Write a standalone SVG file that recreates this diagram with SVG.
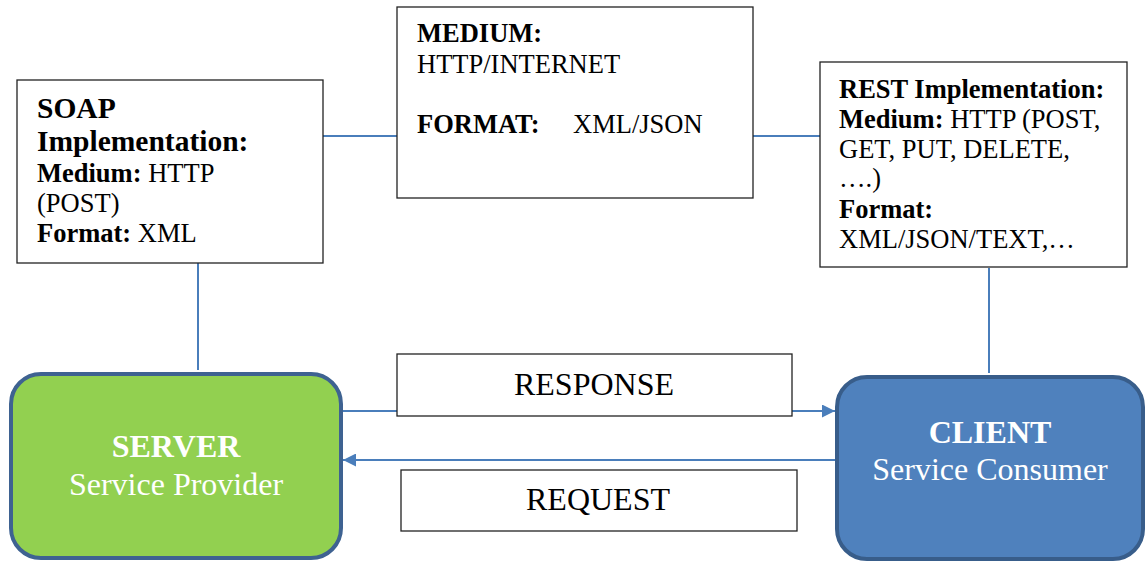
<svg xmlns="http://www.w3.org/2000/svg" width="1147" height="562" viewBox="0 0 1147 562" font-family="'Liberation Serif', Tinos, 'Times New Roman', 'DejaVu Serif', serif">
<style>
.box{fill:#fff;stroke:#222;stroke-width:1.3}
.t{font-family:'Liberation Serif', Tinos, 'Times New Roman', 'DejaVu Serif', serif;font-size:26.5px;fill:#000}
.h{font-size:29.5px}
.b{font-weight:bold}
.big{font-family:'Liberation Serif', Tinos, 'Times New Roman', 'DejaVu Serif', serif;font-size:32px}
.w{fill:#fff}
.conn{stroke:#4A7EBB;stroke-width:2;fill:none}
</style>
<defs>
<marker id="ah" viewBox="0 0 10 10" refX="10" refY="5" markerWidth="6.5" markerHeight="6.5" orient="auto" markerUnits="strokeWidth">
<path d="M0,0 L10,5 L0,10 z" fill="#4A7EBB"/>
</marker>
</defs>
<rect width="1147" height="562" fill="#fff"/>
<g id="connectors">
<line class="conn" x1="323" y1="136" x2="397" y2="136"/>
<line class="conn" x1="753" y1="136" x2="820" y2="136"/>
<line class="conn" x1="198" y1="263" x2="198" y2="370"/>
<line class="conn" x1="989" y1="268" x2="989" y2="373"/>
<line class="conn" x1="343" y1="411" x2="835" y2="411" marker-end="url(#ah)"/>
<line class="conn" x1="835" y1="460" x2="343" y2="460" marker-end="url(#ah)"/>
</g>
<g id="soap">
<rect class="box" x="17" y="80" width="306" height="183"/>
<text class="t b h" x="37" y="118">SOAP</text>
<text class="t b h" x="37" y="151">Implementation:</text>
<text class="t" x="37" y="182"><tspan class="b">Medium:</tspan> HTTP</text>
<text class="t" x="37" y="212">(POST)</text>
<text class="t" x="37" y="242"><tspan class="b">Format:</tspan> XML</text>
</g>
<g id="medium">
<rect class="box" x="397" y="7" width="356" height="191"/>
<text class="t b" x="417" y="42">MEDIUM:</text>
<text class="t" x="417" y="73">HTTP/INTERNET</text>
<text class="t b" x="417" y="133">FORMAT:</text>
<text class="t" x="573" y="133">XML/JSON</text>
</g>
<g id="rest">
<rect class="box" x="820" y="62" width="307" height="205"/>
<text class="t b" x="839" y="98">REST Implementation:</text>
<text class="t" x="839" y="128"><tspan class="b">Medium:</tspan> HTTP (POST,</text>
<text class="t" x="839" y="158">GET, PUT, DELETE,</text>
<text class="t" x="839" y="187">….)</text>
<text class="t b" x="839" y="218">Format:</text>
<text class="t" x="839" y="248">XML/JSON/TEXT,…</text>
</g>
<g id="server">
<rect x="11" y="374" width="330" height="184" rx="30" fill="#92D050" stroke="#3E6291" stroke-width="4"/>
<text class="big b w" x="176" y="457" text-anchor="middle">SERVER</text>
<text class="big w" x="176" y="495" text-anchor="middle">Service Provider</text>
</g>
<g id="client">
<rect x="837" y="377" width="306" height="182" rx="30" fill="#4F81BD" stroke="#385D8A" stroke-width="4"/>
<text class="big b w" x="990" y="443" text-anchor="middle">CLIENT</text>
<text class="big w" x="990" y="480" text-anchor="middle">Service Consumer</text>
</g>
<g id="response">
<rect class="box" x="397" y="354" width="395" height="62"/>
<text class="big" x="594" y="395" text-anchor="middle">RESPONSE</text>
</g>
<g id="request">
<rect class="box" x="401" y="470" width="396" height="61"/>
<text class="big" x="598" y="510" text-anchor="middle">REQUEST</text>
</g>
</svg>
